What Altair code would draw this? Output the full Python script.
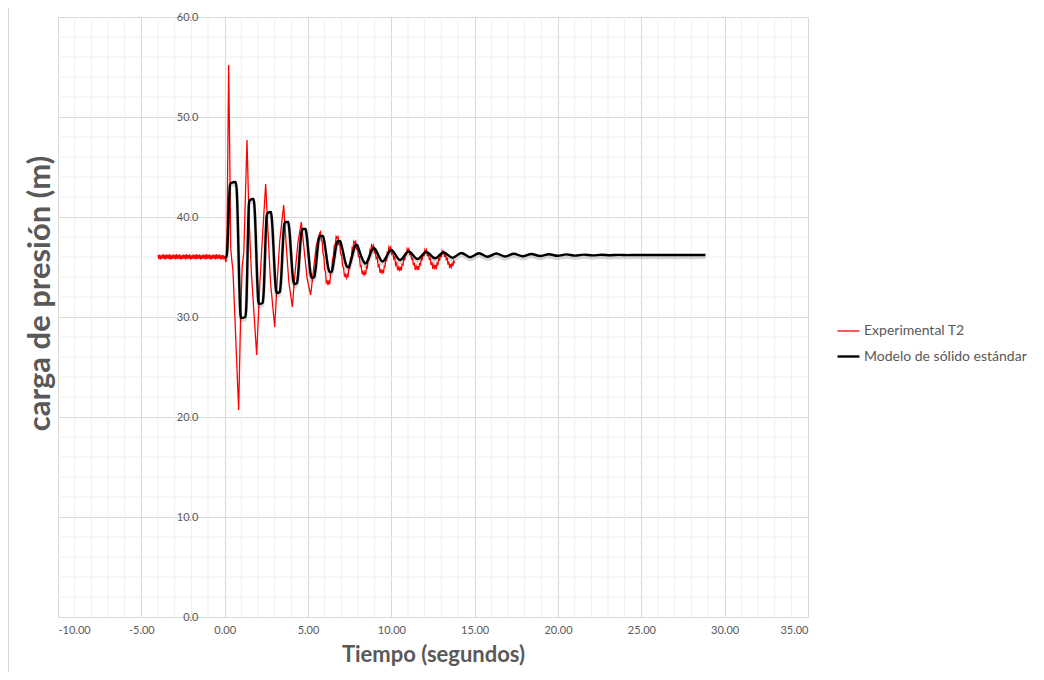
import altair as alt
import pandas as pd

# ---------------- data ----------------
series_names = ["Experimental T2", "Modelo de sólido estándar"]

# experimental record: flat, noisy part before the valve closure
base_t = [-4.00, -3.95, -3.90, -3.85, -3.80, -3.75, -3.70, -3.65, -3.60, -3.55,
          -3.50, -3.45, -3.40, -3.35, -3.30, -3.25, -3.20, -3.15, -3.10, -3.05,
          -3.00, -2.95, -2.90, -2.85, -2.80, -2.75, -2.70, -2.65, -2.60, -2.55,
          -2.50, -2.45, -2.40, -2.35, -2.30, -2.25, -2.20, -2.15, -2.10, -2.05,
          -2.00, -1.95, -1.90, -1.85, -1.80, -1.75, -1.70, -1.65, -1.60, -1.55,
          -1.50, -1.45, -1.40, -1.35, -1.30, -1.25, -1.20, -1.15, -1.10, -1.05,
          -1.00, -0.95, -0.90, -0.85, -0.80, -0.75, -0.70, -0.65, -0.60, -0.55,
          -0.50, -0.45, -0.40, -0.35, -0.30, -0.25, -0.20, -0.15, -0.10, -0.05,
          0.00]
base_y = [36.20, 35.80, 36.25, 35.75, 36.15, 35.85, 36.30, 35.80, 36.20, 35.75,
          36.25, 35.85, 36.20, 35.80, 36.30, 35.75, 36.15, 35.80, 36.25, 35.85,
          36.20, 35.75, 36.30, 35.80, 36.20, 35.85, 36.25, 35.75, 36.15, 35.80,
          36.25, 35.85, 36.20, 35.75, 36.30, 35.80, 36.20, 35.85, 36.25, 35.75,
          36.15, 35.80, 36.25, 35.85, 36.20, 35.75, 36.30, 35.80, 36.20, 35.85,
          36.25, 35.75, 36.15, 35.80, 36.25, 35.85, 36.20, 35.75, 36.30, 35.80,
          36.20, 35.85, 36.25, 35.75, 36.15, 35.80, 36.25, 35.85, 36.20, 35.75,
          36.30, 35.80, 36.20, 35.85, 36.25, 35.75, 36.15, 35.80, 36.20, 35.85,
          36.00]

# experimental record: large surge oscillations
surge_t = [0.08, 0.14, 0.24, 0.30, 0.36, 0.42, 0.50, 0.84, 0.95, 1.05,
           1.15, 1.34, 1.45, 1.60, 1.92, 2.10, 2.25, 2.46, 2.60, 2.75,
           3.00, 3.15, 3.30, 3.54, 3.70, 3.85, 4.06, 4.20, 4.40, 4.60,
           4.80, 4.95, 5.16, 5.35, 5.50, 5.70]
surge_y = [35.5, 38.0, 55.2, 47.0, 37.0, 35.8, 34.6, 20.7, 29.5, 35.0,
           36.5, 47.7, 40.5, 34.5, 26.2, 33.0, 37.5, 43.3, 38.5, 33.5,
           29.0, 33.5, 37.5, 41.2, 37.0, 33.5, 31.0, 34.0, 37.5, 39.5,
           36.2, 33.8, 32.2, 35.0, 37.2, 38.4]

# experimental record: decaying, noisy tail
tail_t = [5.75, 5.80, 5.85, 5.90, 5.95, 6.00, 6.05, 6.10, 6.15, 6.20,
          6.25, 6.31, 6.36, 6.42, 6.47, 6.52, 6.58, 6.63, 6.69, 6.74,
          6.80, 6.85, 6.91, 6.96, 7.02, 7.08, 7.13, 7.19, 7.24, 7.30,
          7.35, 7.40, 7.45, 7.50, 7.55, 7.60, 7.65, 7.70, 7.75, 7.80,
          7.86, 7.91, 7.97, 8.02, 8.08, 8.14, 8.19, 8.25, 8.30, 8.36,
          8.41, 8.46, 8.51, 8.56, 8.61, 8.66, 8.71, 8.76, 8.81, 8.86,
          8.92, 8.98, 9.03, 9.09, 9.15, 9.21, 9.27, 9.32, 9.38, 9.44,
          9.49, 9.53, 9.58, 9.62, 9.67, 9.72, 9.76, 9.81, 9.85, 9.90,
          9.96, 10.02, 10.08, 10.14, 10.20, 10.26, 10.32, 10.38, 10.44, 10.50,
          10.55, 10.60, 10.65, 10.70, 10.75, 10.80, 10.85, 10.90, 10.95, 11.00,
          11.05, 11.11, 11.16, 11.22, 11.27, 11.32, 11.38, 11.43, 11.49, 11.54,
          11.59, 11.64, 11.70, 11.75, 11.80, 11.85, 11.90, 11.96, 12.01, 12.06,
          12.11, 12.17, 12.22, 12.28, 12.33, 12.38, 12.44, 12.49, 12.55, 12.60,
          12.65, 12.70, 12.75, 12.80, 12.85, 12.90, 12.95, 13.00, 13.05, 13.10,
          13.15, 13.20, 13.25, 13.30, 13.35, 13.40, 13.45, 13.50, 13.55, 13.60,
          13.65, 13.70, 13.75, 13.80]
tail_y = [38.52, 37.65, 37.58, 36.35, 36.05, 34.75, 34.52, 33.45, 33.58, 33.20,
          33.57, 33.40, 34.42, 34.57, 35.80, 36.03, 37.18, 37.20, 38.04, 37.90,
          38.05, 37.27, 37.33, 36.27, 36.15, 35.03, 34.97, 34.03, 34.25, 33.90,
          34.24, 33.98, 34.87, 34.86, 35.90, 35.94, 36.93, 36.82, 37.56, 37.40,
          37.57, 36.84, 36.99, 36.04, 36.05, 35.06, 35.11, 34.26, 34.53, 34.20,
          34.52, 34.22, 35.03, 34.92, 35.85, 35.78, 36.67, 36.48, 37.18, 37.00,
          37.19, 36.50, 36.71, 35.85, 35.95, 35.05, 35.19, 34.40, 34.71, 34.40,
          34.71, 34.38, 35.14, 34.98, 35.85, 35.72, 36.56, 36.32, 36.99, 36.80,
          37.00, 36.35, 36.62, 35.82, 36.00, 35.18, 35.38, 34.65, 35.00, 34.70,
          35.00, 34.63, 35.34, 35.11, 35.90, 35.69, 36.46, 36.17, 36.80, 36.60,
          36.81, 36.18, 36.48, 35.73, 35.95, 35.17, 35.42, 34.72, 35.09, 34.80,
          35.09, 34.71, 35.40, 35.14, 35.90, 35.66, 36.40, 36.09, 36.71, 36.50,
          36.71, 36.10, 36.42, 35.70, 35.95, 35.20, 35.48, 34.80, 35.19, 34.90,
          35.19, 34.79, 35.46, 35.17, 35.90, 35.63, 36.34, 36.01, 36.61, 36.40,
          36.62, 36.02, 36.36, 35.67, 35.95, 35.23, 35.54, 34.88, 35.28, 35.00,
          35.35, 35.10, 35.60, 35.40]

# standard linear solid model
model_t = [0.0, 0.12, 0.32, 0.38, 0.66, 0.72, 0.95, 1.00, 1.24, 1.29,
           1.46, 1.51, 1.74, 1.79, 2.02, 2.07, 2.28, 2.33, 2.52, 2.57,
           2.78, 2.83, 3.08, 3.13, 3.31, 3.36, 3.57, 3.62, 3.82, 3.87,
           4.12, 4.17, 4.34, 4.39, 4.61, 4.66, 4.86, 4.91, 5.17, 5.22,
           5.38, 5.43, 5.66, 5.72, 5.90, 5.96, 6.23, 6.29, 6.42, 6.48,
           6.73, 6.79, 6.93, 6.99, 7.29, 7.35, 7.45, 7.52, 7.80, 7.86,
           7.96, 8.02, 8.35, 8.42, 8.50, 8.57, 8.88, 8.94, 9.02,
           9.47, 10.00, 10.52, 11.04, 11.57, 12.10, 12.62, 13.14, 13.67,
           14.20, 14.73, 15.26, 15.78, 16.30, 16.83, 17.35, 17.88, 18.40,
           18.93, 19.45, 19.98, 20.50, 21.03, 21.55, 22.08, 22.60, 23.13,
           23.65, 24.20, 24.70, 28.85]
model_y = [36.0, 36.0, 43.2, 43.4, 43.5, 42.8, 30.2, 29.9, 30.0, 30.8,
           41.4, 41.7, 41.8, 41.0, 31.6, 31.3, 31.4, 32.2, 40.1, 40.4,
           40.5, 39.8, 32.7, 32.4, 32.5, 33.2, 39.2, 39.5, 39.5, 38.9,
           33.6, 33.3, 33.4, 34.0, 38.5, 38.8, 38.8, 38.3, 34.2, 33.9,
           34.0, 34.5, 37.9, 38.1, 38.1, 37.7, 34.8, 34.5, 34.5, 34.9,
           37.4, 37.6, 37.6, 37.3, 35.2, 35.0, 35.0, 35.3, 37.0, 37.2,
           37.2, 36.9, 35.5, 35.35, 35.4, 35.6, 36.8, 36.9, 36.8,
           35.55, 36.7, 35.7, 36.55, 35.8, 36.5, 35.87, 36.45, 35.93,
           36.4, 35.98, 36.37, 36.02, 36.35, 36.05, 36.32, 36.08, 36.3,
           36.1, 36.28, 36.12, 36.26, 36.14, 36.24, 36.16, 36.22, 36.18,
           36.21, 36.19, 36.2, 36.2]

x_major = [-10, -5, 0, 5, 10, 15, 20, 25, 30, 35]
x_minor = [-9, -8, -7, -6, -4, -3, -2, -1, 1, 2, 3, 4, 6, 7, 8, 9,
           11, 12, 13, 14, 16, 17, 18, 19, 21, 22, 23, 24, 26, 27, 28, 29,
           31, 32, 33, 34]
y_major = [0, 10, 20, 30, 40, 50, 60]
y_minor = [2, 4, 6, 8, 12, 14, 16, 18, 22, 24, 26, 28, 32, 34, 36, 38,
           42, 44, 46, 48, 52, 54, 56, 58]

# ---------------- tables ----------------
exp_df = pd.DataFrame({"t": base_t + surge_t + tail_t,
                       "p": base_y + surge_y + tail_y,
                       "serie": series_names[0]})
mod_df = pd.DataFrame({"t": model_t, "p": model_y, "serie": series_names[1]})
xminor_df = pd.DataFrame({"t": x_minor})
yminor_df = pd.DataFrame({"p": y_minor})

FONT = "Lato"
GRAY = "#595959"

x_scale = alt.Scale(domain=[-10, 35], nice=False, zero=False)
y_scale = alt.Scale(domain=[0, 60], nice=False)

x_axis = alt.Axis(values=x_major, grid=True, gridColor="#d9d9d9",
                  labelExpr="(datum.value < 0 ? '-' : '') + format(abs(datum.value), '.2f')",
                  domain=False, ticks=False, labelPadding=7,
                  labelFont=FONT, labelFontSize=11, labelColor=GRAY,
                  title="Tiempo (segundos)", titleFont=FONT, titleFontSize=22,
                  titleFontWeight="bold", titleColor=GRAY, titlePadding=9)
y_axis = alt.Axis(values=y_major, format=".1f", grid=True, gridColor="#d9d9d9",
                  domain=False, ticks=False, offset=-145, labelPadding=5,
                  labelFont=FONT, labelFontSize=11, labelColor=GRAY,
                  title="carga de presión (m)", titleFont=FONT, titleFontSize=31,
                  titleFontWeight="bold", titleColor=GRAY,
                  titleX=-163, titleY=276, titleAlign="center",
                  titleBaseline="middle", titleAngle=270)


def X():
    return alt.X("t:Q", scale=x_scale, axis=x_axis)


def Y():
    return alt.Y("p:Q", scale=y_scale, axis=y_axis)


leg = alt.Legend(title=None, orient="none", legendX=778, legendY=302,
                 symbolType="stroke", symbolSize=480, labelFont=FONT,
                 labelFontSize=14, labelColor=GRAY, rowPadding=6,
                 labelOffset=3, labelLimit=400)

color_enc = alt.Color("serie:N", scale=alt.Scale(domain=series_names,
                      range=["#ff0000", "#000000"]), legend=leg)
sw_enc = alt.StrokeWidth("serie:N", scale=alt.Scale(domain=series_names,
                         range=[1.3, 2.4]), legend=leg)

minor_v = alt.Chart(xminor_df).mark_rule(color="#efefef", strokeWidth=1).encode(x=X())
minor_h = alt.Chart(yminor_df).mark_rule(color="#efefef", strokeWidth=1).encode(y=Y())

exp_line = alt.Chart(exp_df).mark_line(interpolate="linear").encode(
    x=X(), y=Y(), color=color_enc, strokeWidth=sw_enc)

shadow = alt.Chart(mod_df).mark_line(interpolate="monotone", color="#000000",
                                     opacity=0.15, strokeWidth=3.5, yOffset=2.5).encode(
    x=X(), y=Y())

mod_line = alt.Chart(mod_df).mark_line(interpolate="monotone").encode(
    x=X(), y=Y(), color=color_enc, strokeWidth=sw_enc)

border = alt.Chart(pd.DataFrame({"k": [0]})).mark_rule(color="#d9d9d9", strokeWidth=1).encode(
    x=alt.value(-49.5), y=alt.value(-9), y2=alt.value(663))

chart = alt.layer(minor_v, minor_h, exp_line, shadow, mod_line, border).properties(
    width=750, height=600,
    autosize=alt.AutoSizeParams(type="none"),
    padding={"left": 50, "top": 9, "right": 228, "bottom": 55},
).configure_view(stroke=None).configure(background="white")

chart.save("out.html", embed_options={"renderer": "svg", "actions": False})
